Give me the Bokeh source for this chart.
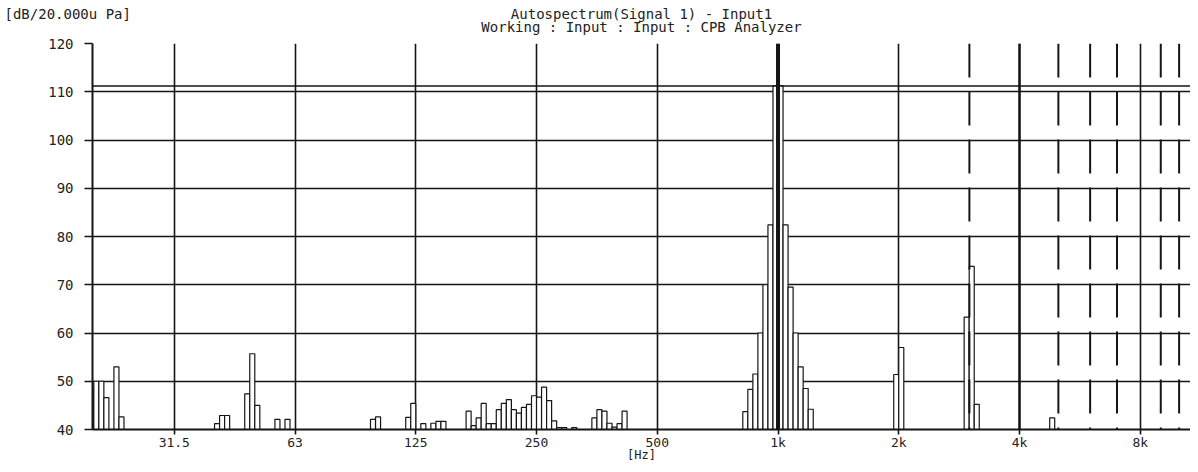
from bokeh.plotting import figure
from bokeh.models import Range1d, FixedTicker, Span, ColumnDataSource, Title
from bokeh.embed import file_html
from bokeh.resources import INLINE

# ---------------- data (1/24-octave CPB bands, band index = lower edge in 1/24 oct steps from 1 kHz) -------------
band_index = [-137, -136, -135, -134, -132, -131,
              -112, -111, -110,
              -106, -105, -104,
              -100, -98,
              -81, -80,
              -74, -73, -71, -69, -68, -67,
              -62, -61, -60, -59, -58, -57, -56, -55, -54, -53, -52, -51, -50, -49, -48, -47, -46, -45,
              -44, -43, -41,
              -37, -36, -35, -34, -33, -32, -31,
              -7, -6, -5, -4, -3, -2, -1, 0, 1, 2, 3, 4, 5, 6,
              23, 24,
              37, 38, 39,
              54]
level_db = [48.0, 50.0, 50.0, 46.6, 53.0, 42.6,
            41.2, 42.9, 42.9,
            47.4, 55.7, 45.0,
            42.1, 42.1,
            42.1, 42.6,
            42.5, 45.4, 41.2, 41.3, 41.7, 41.7,
            43.8, 40.8, 42.4, 45.4, 41.2, 41.2, 44.1, 45.4, 46.2, 44.1, 43.4, 44.6, 45.2, 47.0, 46.7, 48.8, 46.0, 41.8,
            40.4, 40.4, 40.4,
            42.4, 44.1, 43.8, 41.3, 40.5, 41.2, 43.8,
            43.7, 48.3, 51.5, 60.0, 70.0, 82.4, 111.3, 111.3, 82.4, 69.5, 60.0, 53.0, 48.5, 44.2,
            51.4, 57.0,
            63.3, 73.8, 45.2,
            42.4]
bands_per_octave = 24
reference_hz = 1000.0

octave_ticks = [31.25, 62.5, 125, 250, 500, 1000, 2000, 4000, 8000]
octave_labels = ["31.5", "63", "125", "250", "500", "1k", "2k", "4k", "8k"]
db_ticks = [40, 50, 60, 70, 80, 90, 100, 110, 120]
db_grid = [50, 60, 70, 80, 90, 100, 110]
fundamental_hz = 1000
harmonic_hz = [3000, 5000, 6000, 7000, 9000, 10000]
peak_cursor_db = 111.2
freq_min, freq_max = 19.54, 10675
db_min, db_max = 40, 120

title_line1 = "Autospectrum(Signal 1) - Input1"
title_line2 = "Working : Input : Input : CPB Analyzer"
y_unit_text = "[dB/20.000u Pa]"
x_unit_text = "[Hz]"

FONT = "DejaVu Sans Mono"
INK = "#151515"
TXT = "#222222"

left = [reference_hz * 2 ** (m / bands_per_octave) for m in band_index]
right = [reference_hz * 2 ** ((m + 1) / bands_per_octave) for m in band_index]
bars = ColumnDataSource(dict(left=left, right=right, top=level_db, bottom=[db_min] * len(level_db)))

p = figure(width=1190, height=464, x_axis_type="log", title=None,
           x_range=Range1d(freq_min, freq_max), y_range=Range1d(db_min, db_max),
           output_backend="svg", toolbar_location=None,
           min_border_left=92, min_border_right=0, min_border_top=43, min_border_bottom=34)
p.outline_line_color = None
p.background_fill_color = "white"
p.border_fill_color = "white"

# header texts as titles (line 2 nearest the frame, line 1 and unit label above it)
def add_title(text, align, valign, standoff, offset=0):
    t = Title(text=text, align=align, vertical_align=valign, standoff=standoff, offset=offset,
              text_font=FONT, text_font_size="14px", text_font_style="normal", text_color=TXT)
    p.add_layout(t, "above")

add_title(title_line2, "center", "top", 13)
add_title(title_line1, "center", "bottom", -18)
add_title(y_unit_text, "left", "bottom", -18, offset=-88)

# grid
p.xgrid.ticker = FixedTicker(ticks=octave_ticks)
p.ygrid.ticker = FixedTicker(ticks=db_grid)
for g in (p.xgrid, p.ygrid):
    g.grid_line_color = INK
    g.grid_line_width = 1.6
    g.grid_line_alpha = 1.0

# axes
p.xaxis.ticker = FixedTicker(ticks=octave_ticks)
p.xaxis.major_label_overrides = dict(zip(octave_ticks, octave_labels))
p.yaxis.ticker = FixedTicker(ticks=db_ticks)
for ax in (p.xaxis, p.yaxis):
    ax.axis_line_color = INK
    ax.axis_line_width = 2
    ax.major_tick_line_color = INK
    ax.major_tick_line_width = 1.6
    ax.major_tick_in = 0
    ax.minor_tick_line_color = None
    ax.major_label_text_font = FONT
    ax.major_label_text_color = TXT
p.yaxis.major_label_text_font_size = "14px"
p.xaxis.major_label_text_font_size = "13px"
p.xaxis.major_tick_out = 5
p.xaxis.major_label_standoff = 0
p.xaxis.axis_label = x_unit_text
p.xaxis.axis_label_standoff = -5
p.xaxis.axis_label_text_font = FONT
p.xaxis.axis_label_text_font_size = "12px"
p.xaxis.axis_label_text_font_style = "normal"
p.xaxis.axis_label_text_color = TXT
p.yaxis.major_tick_out = 8
p.yaxis.major_label_standoff = 11

# bars
p.quad(left="left", right="right", top="top", bottom="bottom", source=bars,
       fill_color="white", line_color=INK, line_width=1.2)

# cursors: fundamental, harmonics, peak level
p.add_layout(Span(location=fundamental_hz, dimension="height", line_color=INK, line_width=4))
p.add_layout(Span(location=4 * fundamental_hz, dimension="height", line_color=INK, line_width=2.4))
p.segment(x0=harmonic_hz, x1=harmonic_hz, y0=[db_max] * len(harmonic_hz), y1=[db_min] * len(harmonic_hz),
          line_color=INK, line_width=2, line_dash="34 14")
p.add_layout(Span(location=peak_cursor_db, dimension="width", line_color=INK, line_width=1.5))

open("out.html", "w").write(file_html(p, INLINE))
